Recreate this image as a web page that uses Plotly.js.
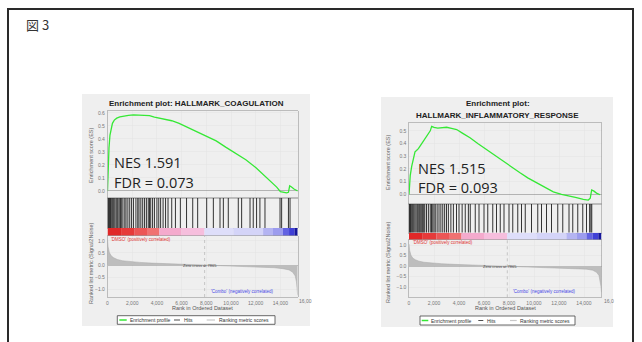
<!DOCTYPE html>
<html><head><meta charset="utf-8">
<script src="https://cdn.plot.ly/plotly-3.0.1.min.js"></script>
<style>body{margin:0;background:#fff}#c{width:642px;height:342px}</style>
</head><body><div id="c"></div>
<script>
// ---------- data ----------
const figLabel = "図 3";
const xTickStep = 2000;
const nGenes = 15400;
const zeroCross = 7865;
const lastTick = 16000;

const leftTitle = "Enrichment plot: HALLMARK_COAGULATION";
const leftNES = "NES 1.591";
const leftFDR = "FDR = 0.073";
const leftESRank = [0,20,60,120,200,300,400,550,750,1000,1300,1700,2100,2600,3000,3400,3800,4200,4700,5200,5800,6500,7200,8000,8800,9600,10400,11200,12000,12700,13300,13700,14000,14300,14500,14650,14750,14900,15100,15400];
const leftESVal  = [0,0.08,0.2,0.33,0.43,0.49,0.52,0.545,0.56,0.57,0.577,0.582,0.585,0.583,0.587,0.58,0.568,0.56,0.555,0.54,0.52,0.49,0.455,0.42,0.385,0.335,0.29,0.24,0.18,0.12,0.065,0.03,-0.005,-0.01,-0.015,-0.01,0.04,0.03,0.015,0.0];
const leftHits = [20,60,110,170,240,300,380,450,520,600,700,780,850,950,1050,1150,1250,1400,1500,1650,1800,1950,2100,2300,2450,2550,2700,2850,3000,3150,3300,3400,3500,3650,3800,4000,4150,4300,4500,4700,4900,5200,5500,5900,6400,6900,7300,8030,8570,9110,9380,9780,10590,10860,11540,11800,12070,12340,12750,13970,14100,14650,14780];

const rightTitle1 = "Enrichment plot:";
const rightTitle2 = "HALLMARK_INFLAMMATORY_RESPONSE";
const rightNES = "NES 1.515";
const rightFDR = "FDR = 0.093";
const rightESRank = [0,30,100,215,350,480,600,750,950,1150,1350,1550,1700,1815,2000,2300,2700,3015,3400,3815,4300,4880,5500,6215,6900,7545,8200,8880,9500,10215,10900,11545,12200,12880,13400,13945,14345,14500,14615,14800,15000,15280];
const rightESVal  = [0,0.07,0.15,0.22,0.29,0.335,0.345,0.36,0.39,0.42,0.45,0.47,0.5,0.535,0.527,0.522,0.527,0.528,0.52,0.51,0.48,0.445,0.4,0.35,0.305,0.26,0.215,0.17,0.13,0.09,0.05,0.02,0.0,-0.013,-0.025,-0.04,-0.045,-0.03,0.035,0.025,0.01,-0.003];
const rightHits = [20,60,110,160,230,300,380,470,560,650,720,800,870,950,1030,1100,1180,1260,1400,1550,1700,1800,1900,2000,2100,2250,2400,2550,2700,2850,3000,3150,3350,3550,3800,4000,4250,4500,4750,4900,5300,5600,6000,6300,6700,7000,7300,7600,8000,8300,8700,9000,9300,9800,10300,10600,11000,11400,11900,12300,12800,13100,13500,13900,14200,14450,14550,14620];

const metricRank = [0,50,150,300,500,800,1200,1800,2600,3600,4800,6200,7865,9500,11000,12500,13500,14200,14700,15000,15200,15300,15350,15400];
const metricVal  = [1.05,0.75,0.52,0.38,0.3,0.23,0.18,0.14,0.11,0.08,0.055,0.03,0,-0.03,-0.05,-0.08,-0.11,-0.15,-0.2,-0.3,-0.45,-0.7,-0.95,-1.25];

const barEdges  = [0,1100,2200,3200,4200,6000,7850,10200,12600,13400,14200,14700,15150,15400];
const barColors = ['#e02828','#e63a3a','#ec5656','#f07272','#f4aacd','#f6bedd','#dedefa','#d4d4f8','#b4b4f2','#9c9cee','#6262e2','#4040d6','#16169a'];

const posLabel = "'DMSO' (positively correlated)";
const negLabel = "'Combo' (negatively correlated)";
const zeroLabel = "Zero cross at " + zeroCross;
const esTitle = "Enrichment score (ES)";
const rkTitle = "Ranked list metric (Signal2Noise)";
const xTitle = "Rank in Ordered Dataset";
const legendNames = ["Enrichment profile","Hits","Ranking metric scores"];

// ---------- layout helpers ----------
const W = 642, H = 342;
const F = "Liberation Sans, Arial, sans-serif";
const fx = v => v / W, fy = v => 1 - v / H;

const panels = [
  {x:[107.5,297.7], es:[111,198], hits:[198,228], bar:[228,236], rk:[236,297], esR:[-0.054,0.615], rkR:[-1.32,1.2],
   esRank:leftESRank, esVal:leftESVal, hits_:leftHits, bg:[82,94,310,326],
   nes:[113,162.5], fdr:[113,182], yt:91, esYc:155, rkYc:263, xtY:308.3, pos:[109,239.5], neg:[275,291.7], zc:[200,265.7], tickY:300.7,
   leg:{box:[117.3,315.7,275,324.3], y:320, g:[119.3,126.7], t1:128, k:[174,180], t2:181.7, r:[206.7,215], t3:216.7},
   big:"16,00"},
  {x:[409,601.5], es:[122.7,204], hits:[204,232.7], bar:[232.7,240], rk:[240,297.3], esR:[-0.076,0.564], rkR:[-1.49,1.24],
   esRank:rightESRank, esVal:rightESVal, hits_:rightHits, bg:[381,97,613,327],
   nes:[417,168], fdr:[417,187], yt:388, esYc:163, rkYc:263, xtY:308.3, pos:[410.7,242.7], neg:[577,291], zc:[500,266],  tickY:300.5,
   leg:{box:[420,316,575,325], y:320.5, g:[421.7,428.3], t1:429.3, k:[478.3,483.3], t2:485, r:[510,516.7], t3:517.7},
   big:"16,0"}
];

const traces = [], shapes = [], anns = [];
const layout = {width:W, height:H, margin:{l:0,r:0,t:0,b:0}, paper_bgcolor:'#ffffff', plot_bgcolor:'#ffffff',
  showlegend:false, hovermode:false, barmode:'overlay'};

function A(x,y,text,size,color,o){
  return Object.assign({xref:'paper',yref:'paper',x:fx(x),y:fy(y),text:text,showarrow:false,
    font:{family:F,size:size,color:color},xanchor:'center',yanchor:'middle'},o||{});
}
const ak = (p,n) => (n===1 ? p+'axis' : p+'axis'+n);
const tr = (p,n) => (n===1 ? p : p+n);
const gridC = '#e4e4e4', lineC = '#9a9a9a';

// frame + figure label
shapes.push({type:'rect',xref:'paper',yref:'paper',x0:fx(8),x1:fx(633),y0:fy(345),y1:fy(9),line:{color:'#2a2a2a',width:2},layer:'below'});
anns.push(A(24,24,figLabel,13,'#333',{xanchor:'left',font:{family:'Noto Sans CJK JP',size:13,color:'#333'}}));

panels.forEach((p,i) => {
  const b = i*4, nE=b+1, nH=b+2, nB=b+3, nR=b+4;
  const dom = [fx(p.x[0]), fx(p.x[1])];
  const ydom = r => [fy(r[1]), fy(r[0])];
  shapes.push({type:'rect',xref:'paper',yref:'paper',x0:fx(p.bg[0]),x1:fx(p.bg[2]),y0:fy(p.bg[3]),y1:fy(p.bg[1]),fillcolor:'#efefef',line:{width:0},layer:'below'});

  const baseX = {domain:dom, range:[0,nGenes], dtick:xTickStep, tick0:0, zeroline:false, fixedrange:true};
  layout[ak('x',nE)] = Object.assign({}, baseX, {anchor:tr('y',nE), showgrid:true, gridcolor:gridC, gridwidth:0.5, showticklabels:false, showline:true, mirror:true, linecolor:lineC, linewidth:0.6});
  layout[ak('y',nE)] = {domain:ydom(p.es), range:p.esR, anchor:tr('x',nE), dtick:0.1, tick0:0, tickformat:'.1f', tickfont:{family:F,size:5,color:'#777'},
    showgrid:true, gridcolor:gridC, gridwidth:0.5, zeroline:true, zerolinecolor:'#8a8a8a', zerolinewidth:0.6, showline:true, mirror:true, linecolor:lineC, linewidth:0.6, ticklabelstandoff:1};
  layout[ak('x',nH)] = Object.assign({}, baseX, {anchor:tr('y',nH), showgrid:false, showticklabels:false, showline:true, mirror:true, linecolor:lineC, linewidth:0.6});
  layout[ak('y',nH)] = {domain:ydom(p.hits), range:[0,1], anchor:tr('x',nH), showgrid:false, showticklabels:false, zeroline:false, showline:true, mirror:true, linecolor:lineC, linewidth:0.6};
  layout[ak('x',nB)] = Object.assign({}, baseX, {anchor:tr('y',nB), showgrid:false, showticklabels:false, showline:false});
  layout[ak('y',nB)] = {domain:ydom(p.bar), range:[0,1], anchor:tr('x',nB), showgrid:false, showticklabels:false, zeroline:false, showline:false};
  layout[ak('x',nR)] = Object.assign({}, baseX, {anchor:tr('y',nR), showgrid:true, gridcolor:gridC, gridwidth:0.5, tickformat:',d', tickfont:{family:F,size:5,color:'#777'},
    showline:true, mirror:true, linecolor:lineC, linewidth:0.6, ticklabelstandoff:1});
  layout[ak('y',nR)] = {domain:ydom(p.rk), range:p.rkR, anchor:tr('x',nR), dtick:0.5, tick0:0, tickformat:'.1f', tickfont:{family:F,size:5,color:'#777'},
    showgrid:true, gridcolor:gridC, gridwidth:0.5, zeroline:true, zerolinecolor:'#9a9a9a', zerolinewidth:0.6, showline:true, mirror:true, linecolor:lineC, linewidth:0.6, ticklabelstandoff:1};

  traces.push({type:'scatter',mode:'lines',x:p.esRank,y:p.esVal,xaxis:tr('x',nE),yaxis:tr('y',nE),line:{color:'#35e835',width:1.3},name:legendNames[0]});
  const hx=[], hy=[];
  p.hits_.forEach(h => { hx.push(h,h,null); hy.push(0,1,null); });
  traces.push({type:'scatter',mode:'lines',x:hx,y:hy,xaxis:tr('x',nH),yaxis:tr('y',nH),line:{color:'#1e1e1e',width:0.9},name:legendNames[1]});
  const cx=[], cw=[], cy=[];
  for (let k=0;k<barColors.length;k++){ cx.push((barEdges[k]+barEdges[k+1])/2); cw.push(barEdges[k+1]-barEdges[k]); cy.push(1); }
  traces.push({type:'bar',x:cx,y:cy,width:cw,base:0,xaxis:tr('x',nB),yaxis:tr('y',nB),marker:{color:barColors,line:{width:0}}});
  traces.push({type:'scatter',mode:'lines',x:metricRank,y:metricVal,fill:'tozeroy',fillcolor:'#bdbdbd',xaxis:tr('x',nR),yaxis:tr('y',nR),line:{color:'#a8a8a8',width:0.5},name:legendNames[2]});
  shapes.push({type:'line',xref:tr('x',nR),yref:tr('y',nR)+' domain',x0:zeroCross,x1:zeroCross,y0:0,y1:1,line:{color:'#aaaaaa',width:0.6,dash:'dot'}});

  if (i===0) anns.push(A(196.7,103,'<b>'+leftTitle+'</b>',8,'#222'));
  else { anns.push(A(497.5,103.3,'<b>'+rightTitle1+'</b>',8,'#222')); anns.push(A(497.5,115,'<b>'+rightTitle2+'</b>',8,'#222')); }
  const big = {xanchor:'left',borderpad:0,font:{family:'Open Sans',size:14.5,color:'#222'}};
  anns.push(A(p.nes[0],p.nes[1],i===0?leftNES:rightNES,14.5,'#222',big));
  anns.push(A(p.fdr[0],p.fdr[1],i===0?leftFDR:rightFDR,14.5,'#222',big));
  anns.push(A(p.yt,p.esYc,esTitle,5.5,'#666',{textangle:-90}));
  anns.push(A(p.yt,p.rkYc,rkTitle,5.5,'#666',{textangle:-90}));
  anns.push(A((p.x[0]+p.x[1])/2,p.xtY,xTitle,5.5,'#555'));
  anns.push(A(p.pos[0],p.pos[1],posLabel,4.5,'#e03434',{xanchor:'left'}));
  anns.push(A(p.neg[0],p.neg[1],negLabel,4.5,'#4646e6',{xanchor:'right'}));
  anns.push(A(p.zc[0],p.zc[1],zeroLabel,4,'#444'));
  // last tick label (beyond plotted range, partly cut by the panel edge)
  const tickPx = p.x[0] + (lastTick/nGenes)*(p.x[1]-p.x[0]);
  anns.push(A(tickPx,p.tickY,p.big,5,'#777'));

  const L = p.leg;
  shapes.push({type:'rect',xref:'paper',yref:'paper',x0:fx(L.box[0]),x1:fx(L.box[2]),y0:fy(L.box[3]),y1:fy(L.box[1]),fillcolor:'#ffffff',line:{color:'#444',width:0.8}});
  shapes.push({type:'line',xref:'paper',yref:'paper',x0:fx(L.g[0]),x1:fx(L.g[1]),y0:fy(L.y),y1:fy(L.y),line:{color:'#35e835',width:1.5}});
  shapes.push({type:'line',xref:'paper',yref:'paper',x0:fx(L.k[0]),x1:fx(L.k[1]),y0:fy(L.y),y1:fy(L.y),line:{color:'#222',width:0.8}});
  shapes.push({type:'line',xref:'paper',yref:'paper',x0:fx(L.r[0]),x1:fx(L.r[1]),y0:fy(L.y),y1:fy(L.y),line:{color:'#c8c8c8',width:1.2}});
  anns.push(A(L.t1,L.y,legendNames[0],5,'#333',{xanchor:'left'}));
  anns.push(A(L.t2,L.y,legendNames[1],5,'#333',{xanchor:'left'}));
  anns.push(A(L.t3,L.y,legendNames[2],5,'#333',{xanchor:'left'}));
});

layout.shapes = shapes;
layout.annotations = anns;
Plotly.newPlot('c', traces, layout, {staticPlot:true, displayModeBar:false});
</script></body></html>
